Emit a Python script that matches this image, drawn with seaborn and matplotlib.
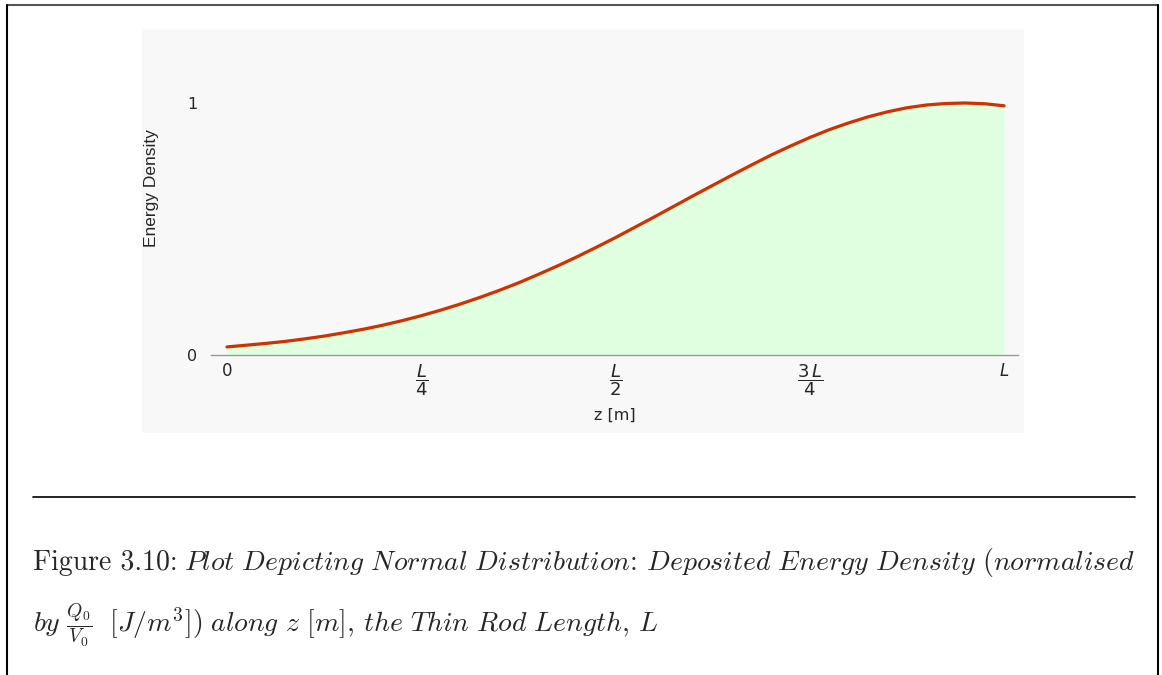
import matplotlib
matplotlib.use("Agg")
import matplotlib.pyplot as plt
from matplotlib.patches import Rectangle
from matplotlib.lines import Line2D
import seaborn as sns
import pandas as pd

# position along the rod (fraction of L) and normalised energy density
z_pos = [0.000, 0.025, 0.050, 0.075, 0.100, 0.125, 0.150, 0.175, 0.200, 0.225,
         0.250, 0.275, 0.300, 0.325, 0.350, 0.375, 0.400, 0.425, 0.450, 0.475,
         0.500, 0.525, 0.550, 0.575, 0.600, 0.625, 0.650, 0.675, 0.700, 0.725,
         0.750, 0.775, 0.800, 0.825, 0.850, 0.875, 0.900, 0.925, 0.950, 0.975, 1.000]
density = [0.032, 0.039, 0.046, 0.054, 0.064, 0.075, 0.088, 0.102, 0.118, 0.136,
           0.156, 0.178, 0.202, 0.228, 0.256, 0.286, 0.319, 0.353, 0.389, 0.427,
           0.466, 0.507, 0.548, 0.590, 0.632, 0.673, 0.714, 0.754, 0.793, 0.829,
           0.863, 0.894, 0.921, 0.945, 0.965, 0.981, 0.992, 0.998, 1.000, 0.997, 0.989]
x_ticks = [0, 0.25, 0.5, 0.75, 1.0]
x_ticklabels = ["0", r"$\dfrac{\mathit{L}}{4}$", r"$\dfrac{\mathit{L}}{2}$",
                r"$\dfrac{3\,\mathit{L}}{4}$", r"$\mathit{L}$"]
y_ticks = [0, 1]
y_ticklabels = ["0", "1"]

sns.set_style("white")
plt.rcParams["font.family"] = ["DejaVu Sans"]
plt.rcParams["mathtext.fontset"] = "dejavusans"

df = pd.DataFrame({"z": z_pos, "density": density})

W, H = 1162, 675
fig = plt.figure(figsize=(W / 100, H / 100), dpi=100)

# grey panel behind the plot
fig.add_artist(Rectangle((142 / W, 1 - 433 / H), (1024 - 142) / W, (433 - 29) / H,
                         transform=fig.transFigure, facecolor="#f8f8f8", edgecolor="none", zorder=0))

ax = fig.add_axes([211 / W, 1 - 355 / H, (1018 - 211) / W, 1.05 * 252 / H])
ax.set_facecolor("none")
ax.fill_between(df["z"], df["density"], 0, color="#e0ffe0", linewidth=0)
sns.lineplot(data=df, x="z", y="density", ax=ax, color="#cc3300", linewidth=2.3)

ax.set_xlim(-16 / 777, 1 + 14 / 777)
ax.set_ylim(0, 1.05)
ax.set_xticks(x_ticks)
ax.set_xticklabels(x_ticklabels, fontsize=12)
for lbl in ax.get_xticklabels():
    if "frac" in lbl.get_text():
        lbl.set_fontsize(13)
ax.set_yticks(y_ticks)
ax.set_yticklabels(y_ticklabels, fontsize=11.5)
ax.tick_params(axis="x", direction="in", length=4, color="#888888", pad=5)
ax.tick_params(axis="y", length=0, pad=10)
for side in ["top", "right", "left"]:
    ax.spines[side].set_visible(False)
ax.spines["bottom"].set_color("#999999")
ax.spines["bottom"].set_linewidth(1)
ax.set_xlabel("z [m]", fontsize=11.5, labelpad=7)
ax.set_ylabel("Energy Density", fontsize=12.5, family="Liberation Sans")
ax.yaxis.set_label_coords(-0.065, 0.63)

# page frame and caption rule
fig.add_artist(Line2D([7 / W, 1158 / W], [1 - 4.5 / H, 1 - 4.5 / H], color="#555555", lw=1.5))
fig.add_artist(Line2D([7 / W, 7 / W], [0, 1 - 4.5 / H], color="black", lw=1.5))
fig.add_artist(Line2D([1158 / W, 1158 / W], [0, 1 - 4.5 / H], color="black", lw=1.5))
fig.add_artist(Line2D([33 / W, 1135 / W], [1 - 497 / H, 1 - 497 / H], color="black", lw=1.2))

cap = dict(fontsize=20, math_fontfamily="cm", family="cmr10")
fig.text(33 / W, 1 - 570 / H, "Figure 3.10:", ha="left", va="baseline", **cap)
fig.text(1135 / W, 1 - 570 / H,
         r"$\mathit{Plot\ Depicting\ Normal\ Distribution}$: "
         r"$\mathit{Deposited\ Energy\ Density\ (normalised}$",
         ha="right", va="baseline", **cap)
fig.text(33 / W, 1 - 632 / H,
         r"$\mathit{by}\ \frac{Q_0}{V_0}\ \ \mathit{[J/m^3])\ along\ z\ [m]}$, "
         r"$\mathit{the\ Thin\ Rod\ Length}$, $\mathit{L}$",
         ha="left", va="baseline", **cap)

fig.savefig("out.png", dpi=100, facecolor="white")
